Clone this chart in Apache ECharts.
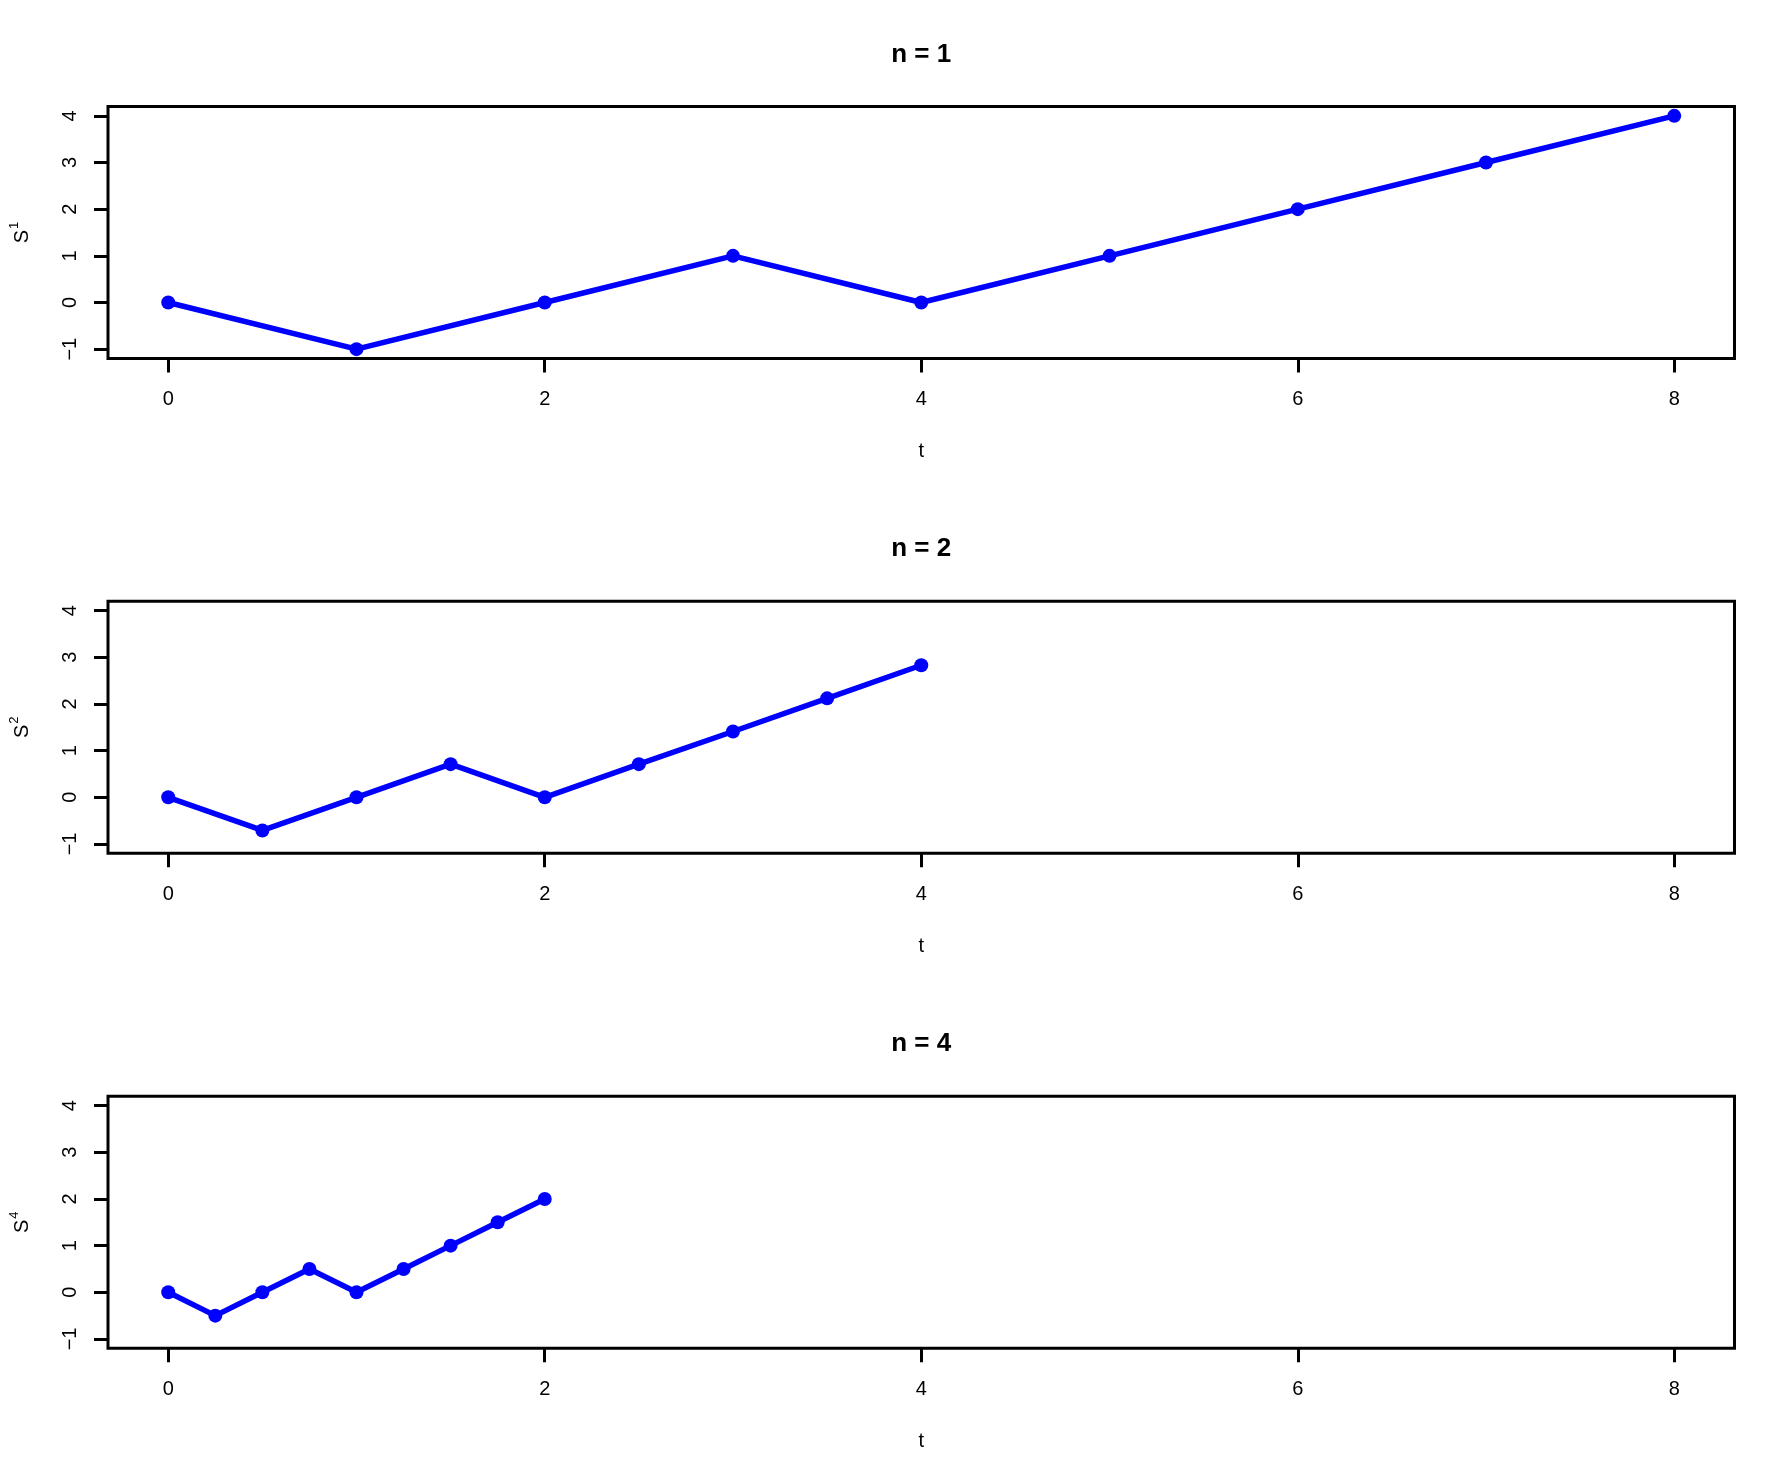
<!DOCTYPE html>
<html>
<head>
<meta charset="utf-8">
<script src="https://cdn.jsdelivr.net/npm/echarts@6/dist/echarts.min.js"></script>
<style>
html,body{margin:0;padding:0;background:#fff;}
#chart{width:1789px;height:1484px;}
</style>
</head>
<body>
<div id="chart"></div>
<script>
// ---- data ----
const titles = ['n = 1', 'n = 2', 'n = 4'];
const superscripts = ['1', '2', '4'];
const t1 = [0, 1, 2, 3, 4, 5, 6, 7, 8];
const s1 = [0, -1, 0, 1, 0, 1, 2, 3, 4];
const t2 = [0, 0.5, 1, 1.5, 2, 2.5, 3, 3.5, 4];
const s2 = [0, -0.71, 0, 0.71, 0, 0.71, 1.41, 2.12, 2.83];
const t4 = [0, 0.25, 0.5, 0.75, 1, 1.25, 1.5, 1.75, 2];
const s4 = [0, -0.5, 0, 0.5, 0, 0.5, 1, 1.5, 2];
const xTicks = [0, 2, 4, 6, 8];
const yTicks = [-1, 0, 1, 2, 3, 4];

const seriesT = [t1, t2, t4];
const seriesS = [s1, s2, s4];

// ---- layout ----
const gridLeft = 108, gridRight = 54.5, gridH = 252;
const gridTops = [106.5, 601.3, 1096.3];
const plotCx = gridLeft + (1789 - gridLeft - gridRight) / 2;
const FONT = '"Liberation Sans", Arial, Helvetica, sans-serif';

const grids = [], xAxes = [], yAxes = [], series = [], graphics = [];
for (let i = 0; i < 3; i++) {
  grids.push({
    left: gridLeft, right: gridRight, top: gridTops[i], height: gridH,
    show: true, borderColor: '#000', borderWidth: 3, backgroundColor: 'transparent',
    containLabel: false
  });
  xAxes.push({
    type: 'value', gridIndex: i, min: -0.32, max: 8.32, position: 'bottom',
    axisLine: { show: false, onZero: false },
    splitLine: { show: false },
    axisTick: { show: true, inside: false, length: 14, customValues: xTicks,
      lineStyle: { color: '#000', width: 3 } },
    axisLabel: { show: true, customValues: xTicks, margin: 31, color: '#000',
      fontSize: 20, fontFamily: FONT, formatter: v => String(v) }
  });
  yAxes.push({
    type: 'value', gridIndex: i, min: -1.2, max: 4.2, position: 'left',
    axisLine: { show: false, onZero: false },
    splitLine: { show: false },
    axisTick: { show: true, inside: false, length: 14, customValues: yTicks,
      lineStyle: { color: '#000', width: 3 } },
    axisLabel: { show: true, customValues: yTicks, rotate: 90, margin: 28, color: '#000',
      fontSize: 20, fontFamily: FONT,
      formatter: v => (v < 0 ? '\u2212' + Math.abs(v) : String(v)) }
  });
  series.push({
    type: 'line', xAxisIndex: i, yAxisIndex: i,
    data: seriesT[i].map((t, k) => [t, seriesS[i][k]]),
    symbol: 'circle', symbolSize: 14, showSymbol: true,
    lineStyle: { color: '#0000FF', width: 5.5 },
    itemStyle: { color: '#0000FF' },
    animation: false, silent: true
  });
  // title
  graphics.push({
    type: 'text', x: plotCx, y: gridTops[i] - 52,
    style: { text: titles[i], fontSize: 26, fontWeight: 'bold', fontFamily: FONT,
      fill: '#000', align: 'center', verticalAlign: 'middle' }
  });
  // x axis name
  graphics.push({
    type: 'text', x: plotCx, y: gridTops[i] + gridH + 93,
    style: { text: 't', fontSize: 20, fontFamily: FONT, fill: '#000',
      align: 'center', verticalAlign: 'middle' }
  });
  // y axis name S^n
  graphics.push({
    type: 'text', x: 20, y: gridTops[i] + gridH / 2, rotation: Math.PI / 2,
    style: {
      text: '{s|S}{p|' + superscripts[i] + '}',
      align: 'center', verticalAlign: 'middle',
      rich: {
        s: { fontSize: 20, fontFamily: FONT, fill: '#000', verticalAlign: 'bottom', lineHeight: 24 },
        p: { fontSize: 13, fontFamily: FONT, fill: '#000', verticalAlign: 'top', lineHeight: 24, padding: [0, 0, 12, 1] }
      }
    }
  });
}

const chart = echarts.init(document.getElementById('chart'), null, { renderer: 'canvas' });
chart.setOption({
  backgroundColor: '#fff',
  animation: false,
  grid: grids,
  xAxis: xAxes,
  yAxis: yAxes,
  series: series,
  graphic: graphics
});
</script>
</body>
</html>
